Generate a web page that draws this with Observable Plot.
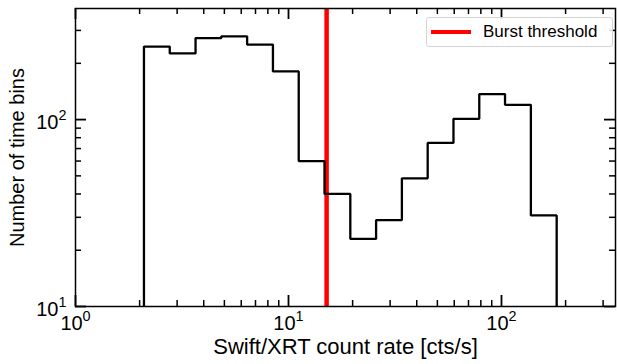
<!DOCTYPE html>
<html>
<head>
<meta charset="utf-8">
<script src="https://cdn.jsdelivr.net/npm/d3@7"></script>
<script src="https://cdn.jsdelivr.net/npm/@observablehq/plot@0.6"></script>
<style>
  body { margin: 0; background: #fff; }
  #wrap { position: relative; width: 617px; height: 364px; overflow: hidden; }
  .legend { position: absolute; left: 426px; top: 17px; width: 187px; height: 30px; box-sizing: border-box;
    border: 1px solid #d4d4d4; border-radius: 3px; background: rgba(255,255,255,0.85);
    font-family: "Liberation Sans", Arial, sans-serif; }
  .legend .sw { position: absolute; left: 4px; top: 11.5px; width: 40px; height: 4.5px; background: #ff0000; }
  .legend .lb { position: absolute; left: 56px; top: 4px; font-size: 17px; line-height: 20px; color: #000; white-space: nowrap; }
</style>
</head>
<body>
<div id="wrap"></div>
<script>
// ---- data ----
const binEdges = [2.096, 2.770, 3.661, 4.838, 6.394, 8.452, 11.17, 14.76, 19.51, 25.78, 34.07, 45.03, 59.51, 78.65, 103.9, 137.4, 181.6];
const binCounts = [246, 226, 273, 279, 252, 181, 60, 40, 23, 29, 48.5, 75, 101, 137, 120, 30.7];
const burstThreshold = 15.1;
const xDomain = [1, 343];
const yDomain = [10, 393];
const xMajorTicks = [1, 10, 100];
const xMinorTicks = [2, 3, 4, 5, 6, 7, 8, 9, 20, 30, 40, 50, 60, 70, 80, 90, 200, 300];
const yMajorTicks = [10, 100];
const yMinorTicks = [20, 30, 40, 50, 60, 70, 80, 90, 200, 300];
const xLabel = "Swift/XRT count rate [cts/s]";
const yLabel = "Number of time bins";
const legendLabel = "Burst threshold";

// step outline (matplotlib histtype="step")
const stepPts = [{x: binEdges[0], y: yDomain[0]}];
binCounts.forEach((c, i) => {
  stepPts.push({x: binEdges[i], y: c});
  stepPts.push({x: binEdges[i + 1], y: c});
});
stepPts.push({x: binEdges[binEdges.length - 1], y: yDomain[0]});

const W = 617, H = 364, mL = 75, mR = 2, mT = 8, mB = 58;
const fw = W - mL - mR, fh = H - mT - mB;
const majLen = 11, minLen = 6;
const sup = d => "10^" + Math.round(Math.log10(d));

const chart = Plot.plot({
  width: W, height: H,
  marginLeft: mL, marginRight: mR, marginTop: mT, marginBottom: mB,
  x: {type: "log", domain: xDomain, axis: null},
  y: {type: "log", domain: yDomain, axis: null},
  style: {fontFamily: "'Liberation Sans', Arial, sans-serif", fontSize: "20px", color: "black", background: "white", overflow: "visible"},
  marks: [
    Plot.ruleX([burstThreshold], {x: d => d, stroke: "#ff0000", strokeWidth: 4.5}),
    Plot.line(stepPts, {x: "x", y: "y", stroke: "black", strokeWidth: 2.3, strokeLinejoin: "miter", strokeLinecap: "butt"}),
    // inward ticks on all four sides
    Plot.tickX(xMajorTicks, {x: d => d, insetTop: fh - majLen, stroke: "black", strokeWidth: 1.8}),
    Plot.tickX(xMajorTicks, {x: d => d, insetBottom: fh - majLen, stroke: "black", strokeWidth: 1.8}),
    Plot.tickX(xMinorTicks, {x: d => d, insetTop: fh - minLen, stroke: "black", strokeWidth: 1.5}),
    Plot.tickX(xMinorTicks, {x: d => d, insetBottom: fh - minLen, stroke: "black", strokeWidth: 1.5}),
    Plot.tickY(yMajorTicks, {y: d => d, insetRight: fw - majLen, stroke: "black", strokeWidth: 1.8}),
    Plot.tickY(yMajorTicks, {y: d => d, insetLeft: fw - majLen, stroke: "black", strokeWidth: 1.8}),
    Plot.tickY(yMinorTicks, {y: d => d, insetRight: fw - minLen, stroke: "black", strokeWidth: 1.5}),
    Plot.tickY(yMinorTicks, {y: d => d, insetLeft: fw - minLen, stroke: "black", strokeWidth: 1.5}),
    Plot.frame({stroke: "black", strokeWidth: 1.5}),
    // tick labels
    Plot.text(xMajorTicks, {x: d => d, frameAnchor: "bottom", dy: 17, text: sup, textAnchor: "middle", lineAnchor: "middle", fill: "black", fontSize: 20}),
    Plot.text(yMajorTicks, {y: d => d, frameAnchor: "left", dx: -9, dy: 3, text: sup, textAnchor: "end", lineAnchor: "middle", fill: "black", fontSize: 20}),
    // axis titles
    Plot.text([xLabel], {frameAnchor: "bottom", dy: 40, text: d => d, textAnchor: "middle", lineAnchor: "middle", fill: "black", fontSize: 22}),
    Plot.text([yLabel], {frameAnchor: "left", dx: -58, rotate: -90, text: d => d, textAnchor: "middle", lineAnchor: "middle", fill: "black", fontSize: 20})
  ]
});

// render "10^k" as 10 with superscript
const NS = "http://www.w3.org/2000/svg";
chart.querySelectorAll("text").forEach(t => {
  const m = (t.textContent || "").match(/^10\^(-?\d+)$/);
  if (m) {
    t.textContent = "10";
    const ts = document.createElementNS(NS, "tspan");
    ts.setAttribute("font-size", "0.72em");
    ts.setAttribute("dy", "-0.6em");
    ts.textContent = m[1];
    t.appendChild(ts);
  }
});

const wrap = document.getElementById("wrap");
wrap.appendChild(chart);
const leg = document.createElement("div");
leg.className = "legend";
leg.innerHTML = '<div class="sw"></div><div class="lb"></div>';
leg.querySelector(".lb").textContent = legendLabel;
wrap.appendChild(leg);
</script>
</body>
</html>
